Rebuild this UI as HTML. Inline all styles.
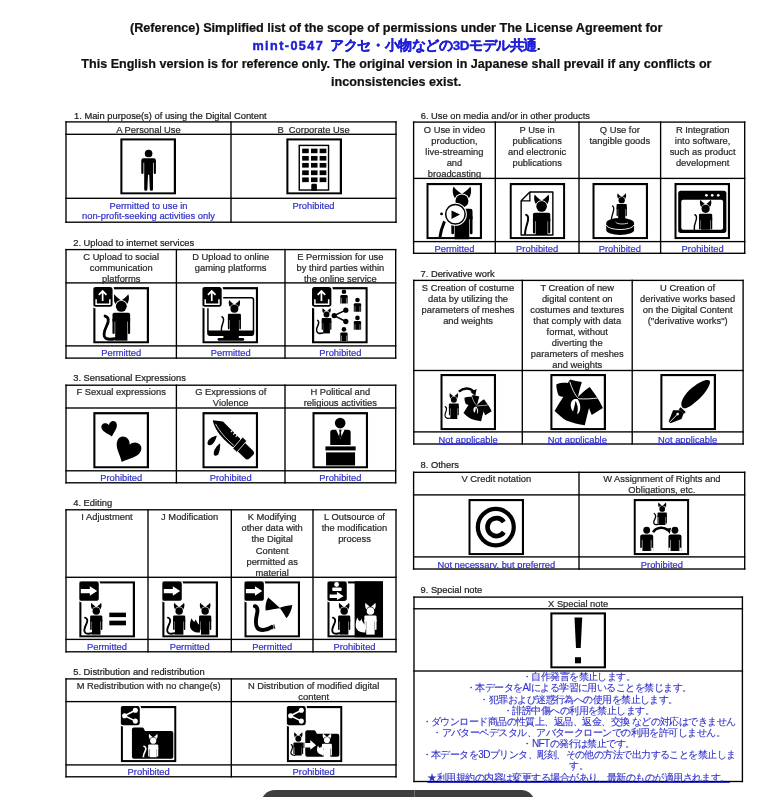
<!DOCTYPE html>
<html><head><meta charset="utf-8"><style>
html,body{margin:0;padding:0;background:#fff;}
body{width:778px;height:797px;position:relative;overflow:hidden;font-family:"Liberation Sans",sans-serif;}
.t{position:absolute;white-space:nowrap;-webkit-text-stroke:0.22px currentColor;}
svg{position:absolute;left:0;top:0;}
</style></head><body>
<svg width="778" height="797" viewBox="0 0 778 797">
<defs>
<g id="cat">
 <g stroke="none">
 <path d="M-7,-11.8 C-8.3,-8.5 -7.6,-4.8 -5.7,-2 L0.6,-5.4 C-2,-6.8 -4.8,-9 -7,-11.8 Z M7,-11.8 C8.3,-8.5 7.6,-4.8 5.7,-2 L-0.6,-5.4 C2,-6.8 4.8,-9 7,-11.8 Z"/>
 <circle r="6.2" fill="currentColor"/>
 <circle r="5.4"/>
 <path d="M-8.8,15 V8.3 Q-8.8,6.5 -7,6.5 H7 Q8.8,6.5 8.8,8.3 V15 Z"/>
 <rect x="-8.8" y="12" width="2.2" height="15.4" rx="1.1"/>
 <rect x="6.6" y="12" width="2.2" height="15.4" rx="1.1"/>
 <rect x="-6.1" y="10" width="12.2" height="23.9"/>
 </g>
 <path d="M-16.2,9.6 C-12.2,10.6 -12.2,15 -14.5,19 C-17,24 -19,29 -15.5,31.5 C-13,33 -9,32.5 -6.5,32" fill="none" stroke-width="2.8" stroke-linecap="round"/>
</g>
<g id="catnt">
 <g stroke="none">
 <path d="M-7,-11.8 C-8.3,-8.5 -7.6,-4.8 -5.7,-2 L0.6,-5.4 C-2,-6.8 -4.8,-9 -7,-11.8 Z M7,-11.8 C8.3,-8.5 7.6,-4.8 5.7,-2 L-0.6,-5.4 C2,-6.8 4.8,-9 7,-11.8 Z"/>
 <circle r="6.2" fill="currentColor"/>
 <circle r="5.4"/>
 <path d="M-8.8,15 V8.3 Q-8.8,6.5 -7,6.5 H7 Q8.8,6.5 8.8,8.3 V15 Z"/>
 <rect x="-8.8" y="12" width="2.2" height="15.4" rx="1.1"/>
 <rect x="6.6" y="12" width="2.2" height="15.4" rx="1.1"/>
 <rect x="-6.1" y="10" width="12.2" height="23.9"/>
 </g>
</g>
<g id="person">
 <circle cx="0" cy="0" r="3.8"/>
 <path d="M-7.3,19 V6.8 Q-7.3,4.6 -5.1,4.6 H5.1 Q7.3,4.6 7.3,6.8 V19 Q7.3,20.2 6.2,20.2 Q5.1,20.2 5.1,19 V9 H-5.1 V19 Q-5.1,20.2 -6.2,20.2 Q-7.3,20.2 -7.3,19 Z"/>
 <path d="M-4.4,7 H4.4 V35.2 Q4.4,36.8 2.8,36.8 Q1.2,36.8 1.2,35.2 L0.6,21 H-0.6 L-1.2,35.2 Q-1.2,36.8 -2.8,36.8 Q-4.4,36.8 -4.4,35.2 Z"/>
</g>
<g id="bust">
 <circle cx="0" cy="0" r="2.3"/>
 <path d="M-3.65,11.6 V4.3 Q-3.65,3.1 -2.45,3.1 H2.45 Q3.65,3.1 3.65,4.3 V11.6 Z"/>
 <path d="M-2.45,6.2 V11.8 M2.45,6.2 V11.8" stroke="#fff" stroke-width="0.45"/>
</g>
<g id="wperson">
 <circle cx="0" cy="0" r="3.4"/>
 <path d="M-6.5,20.4 V6.4 Q-6.5,4.2 -4.3,4.2 H4.3 Q6.5,4.2 6.5,6.4 V20.4 Z"/>
 <path d="M-4.4,9.5 V20.5 M4.4,9.5 V20.5" stroke="#fff" stroke-width="0.55"/>
 <path d="M-6.6,17.2 H-4.7 V20.6 H-6.6 Z M6.6,17.2 H4.7 V20.6 H6.6 Z" fill="#fff"/>
</g>
<g id="bup">
 <rect x="-1" y="-1" width="21.8" height="21.8" rx="3" fill="#fff"/>
 <rect x="0" y="0" width="19.3" height="19.3" rx="2.6"/>
 <path d="M2.9,11.9 V16.9 H16.6 V11.9" fill="none" stroke="#fff" stroke-width="1.5"/>
 <path d="M9.4,13.6 V4.6 M5.6,7.6 L9.4,3.9 L13.2,7.6" fill="none" stroke="#fff" stroke-width="1.7"/>
</g>
<g id="barrow">
 <rect x="-1" y="-1" width="21.8" height="21.8" rx="3" fill="#fff"/>
 <rect x="0" y="0" width="19.5" height="19.3" rx="2.6"/>
 <path d="M1.6,7.7 H10.6 V4.9 L17.9,9.7 L10.6,14.4 V11.8 H1.6 Z" fill="#fff"/>
</g>
<g id="bshare">
 <rect x="-1" y="-1" width="21.2" height="21.2" rx="3" fill="#fff"/>
 <rect x="0" y="0" width="19" height="19" rx="2.6"/>
 <path d="M14.6,4.3 L3.9,9.7 L14.6,15" fill="none" stroke="#fff" stroke-width="1.5"/>
 <circle cx="3.9" cy="9.7" r="2.5" fill="#fff"/><circle cx="14.6" cy="4.3" r="2.5" fill="#fff"/><circle cx="14.6" cy="15" r="2.5" fill="#fff"/>
</g>
<g id="tail2">
 <path d="M0,0 C2.5,1.2 2.5,4.5 0.8,8 C-1,11.5 -1.5,14.5 -1,17.5" fill="none" stroke="#000" stroke-width="1.6" stroke-linecap="round"/>
</g>
<path id="costume" d="M6.05,10.4 C10,8.8 14,8.6 17.6,8.9 C18.4,7.4 19,6.2 19.9,5.4 C23.5,6.6 27.5,7.2 31.5,8.1 C30,13 28.6,18 27.6,22.8 C31,19.2 35,15.6 39.4,12.8 C42.2,16.4 44.6,20 47.1,23.6 C49,26.8 50.8,30.2 52.5,33.6 C48.8,36 45,38.2 41.4,40.5 C40.4,38.2 39.4,35.8 38.7,33.6 C37.3,39.2 35.8,45 34.5,50.6 C28.5,49.6 22,48.2 16,45.9 C11.8,43.4 8,40 4.4,36.6 C7.2,31.8 10,27 13,22.7 C11.4,22.4 9.8,21.8 8.4,21.2 C6.8,17.8 6.2,14 6.05,10.4 Z"/>
<path id="fox" d="M0,12 C-3,11 -4.5,8 -4,4.5 C-3.5,2 -2,0.5 -1.2,-1 C-0.8,0.8 0,1.6 0.8,2 C1.5,3.5 2.2,5 3,6 L3.6,12 Z"/>
</defs>
<rect x="65.33" y="121.23" width="331.35" height="1.35" fill="#000"/><rect x="65.33" y="133.62" width="331.35" height="1.35" fill="#000"/><rect x="65.33" y="197.62" width="331.35" height="1.35" fill="#000"/><rect x="65.33" y="221.52" width="331.35" height="1.35" fill="#000"/><rect x="65.33" y="121.23" width="1.35" height="101.65" fill="#000"/><rect x="395.32" y="121.23" width="1.35" height="101.65" fill="#000"/><rect x="230.32" y="121.23" width="1.35" height="101.65" fill="#000"/><g transform="translate(120.20,138.20) scale(1.0036,1.0144)"><svg x="0" y="0" width="55.6" height="55.6" overflow="hidden"><rect x="1.1" y="1.1" width="53.4" height="53.4" fill="none" stroke="#000" stroke-width="2.2"/><use href="#person" transform="translate(28.3,15.1)"/></svg></g><g transform="translate(286.20,138.20) scale(1.0036,1.0144)"><svg x="0" y="0" width="55.6" height="55.6" overflow="hidden"><rect x="1.1" y="1.1" width="53.4" height="53.4" fill="none" stroke="#000" stroke-width="2.2"/><rect x="13" y="7.1" width="29.2" height="44" fill="none" stroke="#000" stroke-width="1.4"/><rect x="15.9" y="10.3" width="6.6" height="4.5"/><rect x="24.7" y="10.3" width="6.5" height="4.5"/><rect x="33.3" y="10.3" width="6.7" height="4.5"/><rect x="15.9" y="17.5" width="6.6" height="4.6"/><rect x="24.7" y="17.5" width="6.5" height="4.6"/><rect x="33.3" y="17.5" width="6.7" height="4.6"/><rect x="15.9" y="24.4" width="6.6" height="4.6"/><rect x="24.7" y="24.4" width="6.5" height="4.6"/><rect x="33.3" y="24.4" width="6.7" height="4.6"/><rect x="15.9" y="31.7" width="6.6" height="4.7"/><rect x="24.7" y="31.7" width="6.5" height="4.7"/><rect x="33.3" y="31.7" width="6.7" height="4.7"/><rect x="15.9" y="38.7" width="6.6" height="4.6"/><rect x="24.7" y="38.7" width="6.5" height="4.6"/><rect x="33.3" y="38.7" width="6.7" height="4.6"/><path d="M25,51.8 V46.2 Q25,44.9 26.3,44.9 H29.3 Q30.6,44.9 30.6,46.2 V51.8 Z"/></svg></g><rect x="65.33" y="248.92" width="331.05" height="1.35" fill="#000"/><rect x="65.33" y="282.22" width="331.05" height="1.35" fill="#000"/><rect x="65.33" y="345.22" width="331.05" height="1.35" fill="#000"/><rect x="65.33" y="357.43" width="331.05" height="1.35" fill="#000"/><rect x="65.33" y="248.92" width="1.35" height="109.85" fill="#000"/><rect x="395.02" y="248.92" width="1.35" height="109.85" fill="#000"/><rect x="175.72" y="248.92" width="1.35" height="109.85" fill="#000"/><rect x="284.32" y="248.92" width="1.35" height="109.85" fill="#000"/><g transform="translate(93.20,287.10) scale(1.0036,1.0144)"><svg x="0" y="0" width="55.6" height="55.6" overflow="hidden"><rect x="1.1" y="1.1" width="53.4" height="53.4" fill="none" stroke="#000" stroke-width="2.2"/><use href="#cat" transform="translate(28,18.9) scale(1.0)" fill="#000" stroke="#000" color="#fff"/><use href="#bup"/></svg></g><g transform="translate(202.30,287.10) scale(1.0036,1.0144)"><svg x="0" y="0" width="55.6" height="55.6" overflow="hidden"><rect x="1.1" y="1.1" width="53.4" height="53.4" fill="none" stroke="#000" stroke-width="2.2"/><path d="M5.6,44 V12.6 Q5.6,10.6 7.6,10.6 H49 Q51,10.6 51,12.6 V44" fill="none" stroke="#000" stroke-width="1.5"/><use href="#catnt" transform="translate(32.0,21.4) scale(0.74)" fill="#000" stroke="#000" color="#fff"/><path d="M19.6,29.3 C21.5,30 21.6,33 20.3,36 C19.3,38.5 18.8,40.5 19,42.8" fill="none" stroke="#000" stroke-width="1.5" stroke-linecap="round"/><path d="M4.9,42.7 H51.7 V45.6 Q51.7,48.3 49,48.3 H7.6 Q4.9,48.3 4.9,45.6 Z"/><rect x="21" y="47" width="15.4" height="4"/><rect x="15.2" y="50.1" width="26.6" height="2.9" rx="1.45"/><use href="#bup"/></svg></g><g transform="translate(312.00,287.10) scale(1.0036,1.0144)"><svg x="0" y="0" width="55.6" height="55.6" overflow="hidden"><rect x="1.1" y="1.1" width="53.4" height="53.4" fill="none" stroke="#000" stroke-width="2.2"/><use href="#catnt" transform="translate(14.5,27) scale(0.55)" fill="#000" stroke="#000" color="#fff"/><path d="M5.6,32.8 C7,33.5 7,36 5.6,38.5 C4,41.5 4.2,44.6 6.5,45.4 C8,45.8 9.5,45.6 10.9,45.2" fill="none" stroke="#000" stroke-width="1.5" stroke-linecap="round"/><path d="M33.7,22.7 L22.1,28.1 L33.7,33.9" fill="none" stroke="#000" stroke-width="1.5"/><circle cx="22.1" cy="28.1" r="2.6"/><circle cx="33.7" cy="22.7" r="2.6"/><circle cx="33.7" cy="33.9" r="2.6"/><use href="#bust" transform="translate(31.85,4.6)"/><use href="#bust" transform="translate(45.3,12.7)"/><use href="#bust" transform="translate(45.3,30.4)"/><use href="#bust" transform="translate(31.85,41.6)"/><use href="#bup"/></svg></g><rect x="65.33" y="384.52" width="331.05" height="1.35" fill="#000"/><rect x="65.33" y="407.32" width="331.05" height="1.35" fill="#000"/><rect x="65.33" y="470.12" width="331.05" height="1.35" fill="#000"/><rect x="65.33" y="482.12" width="331.05" height="1.35" fill="#000"/><rect x="65.33" y="384.52" width="1.35" height="98.95" fill="#000"/><rect x="395.02" y="384.52" width="1.35" height="98.95" fill="#000"/><rect x="175.72" y="384.52" width="1.35" height="98.95" fill="#000"/><rect x="284.32" y="384.52" width="1.35" height="98.95" fill="#000"/><g transform="translate(93.20,412.10) scale(1.0036,1.0144)"><svg x="0" y="0" width="55.6" height="55.6" overflow="hidden"><rect x="1.1" y="1.1" width="53.4" height="53.4" fill="none" stroke="#000" stroke-width="2.2"/><path d="M0,-3 C-1.5,-7.5 -8.5,-7.5 -8.5,-2.2 C-8.5,2.5 -3,5.5 0,9.5 C3,5.5 8.5,2.5 8.5,-2.2 C8.5,-7.5 1.5,-7.5 0,-3 Z" transform="translate(16.4,15.6) rotate(-15) scale(0.92)"/><path d="M0,-3 C-1.5,-7.5 -8.5,-7.5 -8.5,-2.2 C-8.5,2.5 -3,5.5 0,9.5 C3,5.5 8.5,2.5 8.5,-2.2 C8.5,-7.5 1.5,-7.5 0,-3 Z" transform="translate(34.4,36.2) rotate(25) scale(1.5)"/></svg></g><g transform="translate(202.30,412.10) scale(1.0036,1.0144)"><svg x="0" y="0" width="55.6" height="55.6" overflow="hidden"><rect x="1.1" y="1.1" width="53.4" height="53.4" fill="none" stroke="#000" stroke-width="2.2"/><path d="M10.4,8.1 L20.6,9.2 L39,27.4 L31.4,35.2 C24,29.8 17.5,23.2 13.8,16.8 C12.2,14 11,11 10.4,8.1 Z"/><path d="M13.2,11.6 C17,18.8 23.5,26.2 31.6,33" fill="none" stroke="#fff" stroke-width="0.75"/><path d="M30.3,17.8 L28.4,19.7 M32.7,20.2 L30.8,22.1 M35.1,22.5 L33.2,24.4" stroke="#fff" stroke-width="1.1"/><path d="M41.6,29.4 L50.6,38 Q52.6,40.2 50.4,42.6 L47,45.8 Q44.6,47.8 42.4,45.6 L33.6,37 Z"/><path d="M40.2,24.6 L44.2,28.4 L34.4,39.6 L30.4,35.8 Z" stroke="#fff" stroke-width="0.8" stroke-linejoin="round"/><path d="M14.5,23.4 C10,24 5.5,27 5.2,30.4 C5,32.6 7.4,33.2 9.4,32.2 C12.2,30.4 13.6,26.6 14.5,23.4 Z"/><path d="M17.8,30.8 C14.6,33 11.2,37.5 11.4,41 C11.6,43.6 14.5,43.6 16,41.6 C17.6,38.8 17.8,34.5 17.8,30.8 Z"/></svg></g><g transform="translate(312.30,412.10) scale(1.0036,1.0144)"><svg x="0" y="0" width="55.6" height="55.6" overflow="hidden"><rect x="1.1" y="1.1" width="53.4" height="53.4" fill="none" stroke="#000" stroke-width="2.2"/><circle cx="27.8" cy="10.8" r="5.3"/><path d="M17.9,32.5 V19.8 Q17.9,17.3 20.4,17.3 H35.7 Q38.2,17.3 38.2,19.8 V32.5 Z"/><path d="M23.6,17.1 L27.9,26.5 L32.2,17.1 Z" fill="#fff"/><path d="M26.9,17.4 H28.9 L29.1,19 L28.5,19.4 L29.2,24.5 L27.9,26 L26.6,24.5 L27.3,19.4 L26.7,19 Z"/><rect x="13.1" y="33.8" width="30.1" height="4"/><rect x="13.7" y="39.7" width="28.9" height="12.9"/></svg></g><rect x="65.33" y="509.12" width="331.35" height="1.35" fill="#000"/><rect x="65.33" y="576.62" width="331.35" height="1.35" fill="#000"/><rect x="65.33" y="638.73" width="331.35" height="1.35" fill="#000"/><rect x="65.33" y="651.12" width="331.35" height="1.35" fill="#000"/><rect x="65.33" y="509.12" width="1.35" height="143.35" fill="#000"/><rect x="395.32" y="509.12" width="1.35" height="143.35" fill="#000"/><rect x="147.32" y="509.12" width="1.35" height="143.35" fill="#000"/><rect x="230.62" y="509.12" width="1.35" height="143.35" fill="#000"/><rect x="312.32" y="509.12" width="1.35" height="143.35" fill="#000"/><g transform="translate(79.20,581.20) scale(1.0036,1.0144)"><svg x="0" y="0" width="55.6" height="55.6" overflow="hidden"><rect x="1.1" y="1.1" width="53.4" height="53.4" fill="none" stroke="#000" stroke-width="2.2"/><use href="#cat" transform="translate(17,29.3) scale(0.69)" fill="#000" stroke="#000" color="#fff"/><rect x="30" y="31" width="16.6" height="4.4"/><rect x="30" y="38.9" width="16.6" height="4.6"/><use href="#barrow"/></svg></g><g transform="translate(162.20,581.20) scale(1.0036,1.0144)"><svg x="0" y="0" width="55.6" height="55.6" overflow="hidden"><rect x="1.1" y="1.1" width="53.4" height="53.4" fill="none" stroke="#000" stroke-width="2.2"/><use href="#cat" transform="translate(16.9,29.3) scale(0.69)" fill="#000" stroke="#000" color="#fff"/><use href="#catnt" transform="translate(42.8,29.3) scale(0.69)" fill="#000" stroke="#000" color="#fff"/><path d="M37.6,50.6 C33,51.2 28.6,48.8 27.8,45.2 C27.2,42.2 28.2,39.2 29.2,36.6 C30,38.4 31,39.6 32,40.2 C32.4,39.2 33,38.4 33.6,37.8 C34.2,40.2 35.6,42.2 37.6,43.6 Z"/><use href="#barrow"/></svg></g><g transform="translate(244.30,581.20) scale(1.0036,1.0144)"><svg x="0" y="0" width="55.6" height="55.6" overflow="hidden"><rect x="1.1" y="1.1" width="53.4" height="53.4" fill="none" stroke="#000" stroke-width="2.2"/><path d="M35.5,26.4 C31,22.5 27,19 23.9,16.1 C21.6,19.5 20.8,24.5 21.2,28.9 C26,28.2 31,27.2 35.5,26.4 Z M35.3,26.2 C39.5,25 43.5,24 47.8,23.5 C47.2,28.5 45,33 42,36.6 C40,33 37.8,29.5 35.3,26.2 Z"/><path d="M10.6,24.6 C13.5,25.5 13.5,29 12.5,33 C11.4,38 10.5,42.5 13,46 C16,49.5 23,48 27.2,45.3" fill="none" stroke="#000" stroke-width="3.9" stroke-linecap="round"/><path d="M27.5,43 L28.6,47.4 M29.4,42.6 L30.5,47" stroke="#000" stroke-width="0.9"/><use href="#barrow"/></svg></g><g transform="translate(327.30,581.20) scale(1.0036,1.0144)"><svg x="0" y="0" width="55.6" height="55.6" overflow="hidden"><rect x="1.1" y="1.1" width="53.4" height="53.4" fill="none" stroke="#000" stroke-width="2.2"/><rect x="27.2" y="0" width="28.4" height="55.6"/><use href="#cat" transform="translate(16.8,29.3) scale(0.69)" fill="#000" stroke="#000" color="#fff"/><use href="#catnt" transform="translate(43.0,29.3) scale(0.69)" fill="#fff" stroke="#fff" color="#000"/><path d="M38,50.5 C33.4,51.2 29,48.8 28.4,45 C28,42 28.8,38.6 29.8,35.8 C30.6,37.8 31.6,39 32.6,39.6 C33,38.6 33.6,37.8 34.2,37.2 C34.8,39.8 36,42 38,43.4 Z" fill="#fff"/><rect x="-1" y="-1" width="21.8" height="21.8" rx="3" fill="#fff"/><rect x="0" y="0" width="19.4" height="19.4" rx="2.6"/><circle cx="9.3" cy="3.2" r="2.4" fill="#fff"/><rect x="5" y="6.1" width="9.3" height="3.5" rx="0.8" fill="#fff"/><path d="M2.3,13.1 H9.6 V10.4 L16.2,14.8 L9.6,18.6 V16.5 H2.3 Z" fill="#fff"/></svg></g><rect x="65.33" y="678.23" width="331.35" height="1.35" fill="#000"/><rect x="65.33" y="700.93" width="331.35" height="1.35" fill="#000"/><rect x="65.33" y="764.23" width="331.35" height="1.35" fill="#000"/><rect x="65.33" y="776.12" width="331.35" height="1.35" fill="#000"/><rect x="65.33" y="678.23" width="1.35" height="99.25" fill="#000"/><rect x="395.32" y="678.23" width="1.35" height="99.25" fill="#000"/><rect x="230.62" y="678.23" width="1.35" height="99.25" fill="#000"/><g transform="translate(120.70,705.90) scale(1.0036,1.0144)"><svg x="0" y="0" width="55.6" height="55.6" overflow="hidden"><rect x="1.1" y="1.1" width="53.4" height="53.4" fill="none" stroke="#000" stroke-width="2.2"/><path d="M11.2,23.2 Q11.2,21.2 13.2,21.2 H21.3 Q22.5,21.2 23.2,22.5 L24.1,24.7 H50.4 Q52.4,24.7 52.4,26.7 V50.1 Q52.4,52.1 50.4,52.1 H13.2 Q11.2,52.1 11.2,50.1 Z"/><svg x="11.2" y="21.2" width="41.2" height="29.3" overflow="hidden"><use href="#cat" transform="translate(21.2,13.099999999999998) scale(0.57)" fill="#fff" stroke="#fff" color="#000"/></svg><use href="#bshare"/></svg></g><g transform="translate(286.70,705.90) scale(1.0036,1.0144)"><svg x="0" y="0" width="55.6" height="55.6" overflow="hidden"><rect x="1.1" y="1.1" width="53.4" height="53.4" fill="none" stroke="#000" stroke-width="2.2"/><path d="M18.5,25.9 Q18.5,23.9 20.5,23.9 H27 Q28.2,23.9 28.9,25.2 L30,27.4 H50.4 Q52.4,27.4 52.4,29.4 V48.1 Q52.4,50.1 50.4,50.1 H20.5 Q18.5,50.1 18.5,48.1 Z"/><svg x="0" y="0" width="55.6" height="49" overflow="hidden"><use href="#catnt" transform="translate(11.56,32.4) scale(0.55)" fill="#000" stroke="#000" color="#fff"/></svg><path d="M4.6,38.2 C6,39 5.8,42 4.6,44.5 C3.5,47 4.5,48.8 8.1,48.7" fill="none" stroke="#000" stroke-width="1.2" stroke-linecap="round"/><path d="M16.2,36.6 H23.5 V33.5 L29.3,38.8 L23.5,43.2 V40.9 H16.2 Z" fill="#fff"/><rect x="16.6" y="36" width="1" height="5.5"/><use href="#catnt" transform="translate(40.1,33.6) scale(0.56)" fill="#fff" stroke="#fff" color="#000"/><path d="M37.4,48.2 C34,48.8 30.8,47 30.3,44.2 C30,42 30.5,40.6 31.2,39 C31.8,40.4 32.6,41.2 33.3,41.6 C33.6,40.9 34,40.3 34.5,39.9 C35,41.6 36,43 37.4,44 Z" fill="#fff"/><use href="#bshare"/></svg></g><rect x="412.93" y="121.42" width="332.45" height="1.35" fill="#000"/><rect x="412.93" y="177.72" width="332.45" height="1.35" fill="#000"/><rect x="412.93" y="240.92" width="332.45" height="1.35" fill="#000"/><rect x="412.93" y="252.62" width="332.45" height="1.35" fill="#000"/><rect x="412.93" y="121.42" width="1.35" height="132.55" fill="#000"/><rect x="744.03" y="121.42" width="1.35" height="132.55" fill="#000"/><rect x="494.62" y="121.42" width="1.35" height="132.55" fill="#000"/><rect x="578.33" y="121.42" width="1.35" height="132.55" fill="#000"/><rect x="659.93" y="121.42" width="1.35" height="132.55" fill="#000"/><g transform="translate(426.30,182.90) scale(1.0036,1.0144)"><svg x="0" y="0" width="55.6" height="55.6" overflow="hidden"><rect x="1.1" y="1.1" width="53.4" height="53.4" fill="none" stroke="#000" stroke-width="2.2"/><use href="#catnt" transform="translate(35.5,17.8) scale(1.2)" fill="#000" stroke="#000" color="#fff"/><path d="M15.2,30.6 L15.2,30.6" stroke="#000" stroke-width="2.8" stroke-linecap="round"/><path d="M18.2,38 C16.5,42 14.5,46 13.6,53.5" fill="none" stroke="#000" stroke-width="2.9"/><circle cx="29" cy="30.9" r="11.4" fill="#fff"/><circle cx="29" cy="30.9" r="9.7" fill="none" stroke="#000" stroke-width="1.5"/><path d="M25.1,27.2 L33.6,31.1 L25.1,35.6 Z"/></svg></g><g transform="translate(509.50,182.90) scale(1.0036,1.0144)"><svg x="0" y="0" width="55.6" height="55.6" overflow="hidden"><rect x="1.1" y="1.1" width="53.4" height="53.4" fill="none" stroke="#000" stroke-width="2.2"/><path d="M11.6,51.3 V17.7 L20.3,9 H43.2 V51.3 Z" fill="none" stroke="#000" stroke-width="1.4" stroke-linejoin="round"/><path d="M11.6,17.7 H20.3 V9" fill="none" stroke="#000" stroke-width="1.3"/><svg x="0" y="0" width="55.6" height="51.3" overflow="hidden"><use href="#catnt" transform="translate(32.0,23.1) scale(0.98)" fill="#000" stroke="#000" color="#fff"/></svg><path d="M16.6,31.5 C19,32.3 19,35.5 17.8,39.5 C16.6,43.5 15.5,47 15.5,50.2" fill="none" stroke="#000" stroke-width="2" stroke-linecap="round"/></svg></g><g transform="translate(592.30,182.90) scale(1.0036,1.0144)"><svg x="0" y="0" width="55.6" height="55.6" overflow="hidden"><rect x="1.1" y="1.1" width="53.4" height="53.4" fill="none" stroke="#000" stroke-width="2.2"/><use href="#catnt" transform="translate(29.3,17.0) scale(0.58)" fill="#000" stroke="#000" color="#fff"/><path d="M20.1,22.8 C21.5,23.6 21.6,26.5 20.6,29.5 C19.7,32.3 19,34.5 19,36.6" fill="none" stroke="#000" stroke-width="1.3" stroke-linecap="round"/><path d="M13.9,39.5 A13.85,4.85 0 0 1 41.6,39.5 V46.4 A13.85,4.9 0 0 1 13.9,46.4 Z"/><path d="M14.1,41.6 A13.7,4.8 0 0 0 41.4,41.6" fill="none" stroke="#fff" stroke-width="0.9"/><path d="M23.2,38.6 C25,40.8 31,41 35.6,39.6" fill="none" stroke="#fff" stroke-width="0.8"/></svg></g><g transform="translate(674.30,182.90) scale(1.0036,1.0144)"><svg x="0" y="0" width="55.6" height="55.6" overflow="hidden"><rect x="1.1" y="1.1" width="53.4" height="53.4" fill="none" stroke="#000" stroke-width="2.2"/><rect x="3.9" y="7.7" width="48" height="41.7" rx="2.6"/><rect x="6.95" y="16.6" width="41.65" height="29.7" rx="2" fill="#fff"/><circle cx="32" cy="12.2" r="1.35" fill="#fff"/><circle cx="37.8" cy="12.2" r="1.35" fill="#fff"/><circle cx="43.8" cy="12.2" r="1.35" fill="#fff"/><svg x="0" y="0" width="56" height="46.3" overflow="hidden"><use href="#catnt" transform="translate(31.2,25.5) scale(0.75)" fill="#000" stroke="#000" color="#fff"/></svg><path d="M20.6,31.4 C22.3,32.2 22.4,35 21.3,38 C20.3,40.5 19.7,43 20,46" fill="none" stroke="#000" stroke-width="1.4" stroke-linecap="round"/></svg></g><rect x="413.12" y="279.72" width="330.65" height="1.35" fill="#000"/><rect x="413.12" y="369.82" width="330.65" height="1.35" fill="#000"/><rect x="413.12" y="431.22" width="330.65" height="1.35" fill="#000"/><rect x="413.12" y="443.32" width="330.65" height="1.35" fill="#000"/><rect x="413.12" y="279.72" width="1.35" height="164.95" fill="#000"/><rect x="742.43" y="279.72" width="1.35" height="164.95" fill="#000"/><rect x="521.62" y="279.72" width="1.35" height="164.95" fill="#000"/><rect x="631.53" y="279.72" width="1.35" height="164.95" fill="#000"/><g transform="translate(440.30,373.90) scale(1.0036,1.0144)"><svg x="0" y="0" width="55.6" height="55.6" overflow="hidden"><rect x="1.1" y="1.1" width="53.4" height="53.4" fill="none" stroke="#000" stroke-width="2.2"/><use href="#catnt" transform="translate(13.5,25.5) scale(0.56)" fill="#000" stroke="#000" color="#fff"/><path d="M4.9,32.3 C6.4,33 6.4,35.5 5.3,38 C4.2,40.5 4.4,43 6.6,43.6 C8,44 9.5,43.7 10.8,43.2" fill="none" stroke="#000" stroke-width="1.2" stroke-linecap="round"/><path d="M18.5,17.5 C23,13.5 29,13.4 33,17" fill="none" stroke="#000" stroke-width="2.4"/><path d="M30,17.5 L36.2,15 L34.8,21.8 Z"/><use href="#costume" transform="translate(20.5,17.6) scale(0.585,0.573)"/><path d="M31.2,21.4 C32.5,26 34.5,30 37,31.5 C41,31.5 45.5,31 49.5,30.3" fill="none" stroke="#fff" stroke-width="0.6"/><path d="M34.6,32.4 C32.5,33.5 32.6,37 34.2,38.4 C35,36.5 35.5,34.5 35.3,32.6 C36.5,35 37.5,37 36.4,39.6 C38.5,38.5 38.2,34.8 35.8,32.2 Z" fill="#fff"/></svg></g><g transform="translate(550.20,373.90) scale(1.0036,1.0144)"><svg x="0" y="0" width="55.6" height="55.6" overflow="hidden"><rect x="1.1" y="1.1" width="53.4" height="53.4" fill="none" stroke="#000" stroke-width="2.2"/><use href="#costume"/><path d="M19.5,7.6 C21.5,14 24.5,21 28.5,24.5 C35,25 42,24.5 48.2,23.6" fill="none" stroke="#fff" stroke-width="0.9"/><path d="M24,24.8 C19.5,26.5 19.5,33.5 22.8,37 C23.8,33.5 24.8,30 25.3,26.5 C26.8,30 28.5,34 26.7,39.8 C31,37.5 31,30 27.2,24.7 Z" fill="#fff"/></svg></g><g transform="translate(660.20,373.90) scale(1.0036,1.0144)"><svg x="0" y="0" width="55.6" height="55.6" overflow="hidden"><rect x="1.1" y="1.1" width="53.4" height="53.4" fill="none" stroke="#000" stroke-width="2.2"/><path d="M22.2,33 C18.5,29.5 24,20 32,13.5 C40,7 47.5,4.5 49.3,6.8 C51,9 46.5,17.5 39,24.5 C31,31.5 25,36 22.2,33 Z"/><path d="M20.4,32.8 L25.4,37.6 L23.5,39.6 L18.5,34.8 Z"/><path d="M19.8,35.8 L23.2,39.2 L21.2,44.4 L10.2,48.6 L8.4,46.9 L12.8,35.9 Z"/><path d="M9.1,47.9 L17,40" stroke="#fff" stroke-width="0.9"/><circle cx="17.4" cy="39.6" r="1.3" fill="#fff"/></svg></g><rect x="412.93" y="471.62" width="332.45" height="1.35" fill="#000"/><rect x="412.93" y="494.22" width="332.45" height="1.35" fill="#000"/><rect x="412.93" y="556.23" width="332.45" height="1.35" fill="#000"/><rect x="412.93" y="568.33" width="332.45" height="1.35" fill="#000"/><rect x="412.93" y="471.62" width="1.35" height="98.05" fill="#000"/><rect x="744.03" y="471.62" width="1.35" height="98.05" fill="#000"/><rect x="578.33" y="471.62" width="1.35" height="98.05" fill="#000"/><g transform="translate(468.30,498.90) scale(1.0036,1.0144)"><svg x="0" y="0" width="55.6" height="55.6" overflow="hidden"><rect x="1.1" y="1.1" width="53.4" height="53.4" fill="none" stroke="#000" stroke-width="2.2"/><circle cx="27.4" cy="27.8" r="17.9" fill="none" stroke="#000" stroke-width="4.2"/><path d="M35.4,22.8 A8.9,8.9 0 1 0 35.4,32.8" fill="none" stroke="#000" stroke-width="4.6"/></svg></g><g transform="translate(633.50,498.90) scale(1.0036,1.0144)"><svg x="0" y="0" width="55.6" height="55.6" overflow="hidden"><rect x="1.1" y="1.1" width="53.4" height="53.4" fill="none" stroke="#000" stroke-width="2.2"/><svg x="0" y="0" width="55.6" height="25.8" overflow="hidden"><use href="#catnt" transform="translate(28.6,9.9) scale(0.53)" fill="#000" stroke="#000" color="#fff"/></svg><path d="M20.6,14.4 C22.3,15.4 22.3,18 21,20.5 C19.6,23 20,25 22,25.3 C23,25.4 24,25.2 24.8,25" fill="none" stroke="#000" stroke-width="1.3" stroke-linecap="round"/><path d="M19.6,33 C21.5,28.4 29.5,26.6 34,30.6" fill="none" stroke="#000" stroke-width="2.5"/><path d="M31.6,29.6 L37.4,28.4 L36.2,34.4 Z"/><use href="#wperson" transform="translate(13.15,30.9)"/><use href="#wperson" transform="translate(41.3,30.9)"/></svg></g><rect x="413.32" y="596.43" width="329.75" height="1.35" fill="#000"/><rect x="413.32" y="608.12" width="329.75" height="1.35" fill="#000"/><rect x="413.32" y="670.33" width="329.75" height="1.35" fill="#000"/><rect x="413.32" y="780.83" width="329.75" height="1.35" fill="#000"/><rect x="413.32" y="596.43" width="1.35" height="185.75" fill="#000"/><rect x="741.73" y="596.43" width="1.35" height="185.75" fill="#000"/><g transform="translate(550.20,612.20) scale(1.0036,1.0144)"><svg x="0" y="0" width="55.6" height="55.6" overflow="hidden"><rect x="1.1" y="1.1" width="53.4" height="53.4" fill="none" stroke="#000" stroke-width="2.2"/><path d="M24.2,5.3 H31.9 L30.4,35.3 H25.7 Z"/><rect x="24.7" y="44.4" width="6" height="6"/></svg></g>
</svg>
<div style="position:absolute;left:0;top:0;width:778px;height:797px;will-change:transform">
<div class="t" style="left:74.00px;top:111.11px;font-size:9.36px;line-height:11.70px;color:#222;font-weight:400;">1. Main purpose(s) of using the Digital Content</div><div class="t" style="left:-351.50px;width:1000px;text-align:center;top:125.21px;font-size:9.36px;line-height:11.70px;color:#2a2a2a;font-weight:400;">A Personal Use</div><div class="t" style="left:-351.50px;width:1000px;text-align:center;top:201.01px;font-size:9.36px;line-height:11.70px;color:#3232c8;font-weight:400;">Permitted to use in</div><div class="t" style="left:-351.50px;width:1000px;text-align:center;top:211.41px;font-size:9.36px;line-height:11.70px;color:#3232c8;font-weight:400;">non-profit-seeking activities only</div><div class="t" style="left:-186.50px;width:1000px;text-align:center;top:125.21px;font-size:9.36px;line-height:11.70px;color:#2a2a2a;font-weight:400;">B&nbsp; Corporate Use</div><div class="t" style="left:-186.50px;width:1000px;text-align:center;top:201.01px;font-size:9.36px;line-height:11.70px;color:#3232c8;font-weight:400;">Prohibited</div><div class="t" style="left:73.20px;top:238.31px;font-size:9.36px;line-height:11.70px;color:#222;font-weight:400;">2. Upload to internet services</div><div class="t" style="left:-378.80px;width:1000px;text-align:center;top:251.91px;font-size:9.36px;line-height:11.70px;color:#2a2a2a;font-weight:400;">C Upload to social</div><div class="t" style="left:-378.80px;width:1000px;text-align:center;top:262.81px;font-size:9.36px;line-height:11.70px;color:#2a2a2a;font-weight:400;">communication</div><div class="t" style="left:-378.80px;width:1000px;text-align:center;top:273.71px;font-size:9.36px;line-height:11.70px;color:#2a2a2a;font-weight:400;">platforms</div><div class="t" style="left:-378.80px;width:1000px;text-align:center;top:347.81px;font-size:9.36px;line-height:11.70px;color:#3232c8;font-weight:400;">Permitted</div><div class="t" style="left:-269.30px;width:1000px;text-align:center;top:251.91px;font-size:9.36px;line-height:11.70px;color:#2a2a2a;font-weight:400;">D Upload to online</div><div class="t" style="left:-269.30px;width:1000px;text-align:center;top:262.81px;font-size:9.36px;line-height:11.70px;color:#2a2a2a;font-weight:400;">gaming platforms</div><div class="t" style="left:-269.30px;width:1000px;text-align:center;top:347.81px;font-size:9.36px;line-height:11.70px;color:#3232c8;font-weight:400;">Permitted</div><div class="t" style="left:-159.65px;width:1000px;text-align:center;top:251.91px;font-size:9.36px;line-height:11.70px;color:#2a2a2a;font-weight:400;">E Permission for use</div><div class="t" style="left:-159.65px;width:1000px;text-align:center;top:262.81px;font-size:9.36px;line-height:11.70px;color:#2a2a2a;font-weight:400;">by third parties within</div><div class="t" style="left:-159.65px;width:1000px;text-align:center;top:273.71px;font-size:9.36px;line-height:11.70px;color:#2a2a2a;font-weight:400;">the online service</div><div class="t" style="left:-159.65px;width:1000px;text-align:center;top:347.81px;font-size:9.36px;line-height:11.70px;color:#3232c8;font-weight:400;">Prohibited</div><div class="t" style="left:73.20px;top:373.11px;font-size:9.36px;line-height:11.70px;color:#222;font-weight:400;">3. Sensational Expressions</div><div class="t" style="left:-378.80px;width:1000px;text-align:center;top:387.21px;font-size:9.36px;line-height:11.70px;color:#2a2a2a;font-weight:400;">F Sexual expressions</div><div class="t" style="left:-378.80px;width:1000px;text-align:center;top:472.81px;font-size:9.36px;line-height:11.70px;color:#3232c8;font-weight:400;">Prohibited</div><div class="t" style="left:-269.30px;width:1000px;text-align:center;top:387.21px;font-size:9.36px;line-height:11.70px;color:#2a2a2a;font-weight:400;">G Expressions of</div><div class="t" style="left:-269.30px;width:1000px;text-align:center;top:398.11px;font-size:9.36px;line-height:11.70px;color:#2a2a2a;font-weight:400;">Violence</div><div class="t" style="left:-269.30px;width:1000px;text-align:center;top:472.81px;font-size:9.36px;line-height:11.70px;color:#3232c8;font-weight:400;">Prohibited</div><div class="t" style="left:-159.65px;width:1000px;text-align:center;top:387.21px;font-size:9.36px;line-height:11.70px;color:#2a2a2a;font-weight:400;">H Political and</div><div class="t" style="left:-159.65px;width:1000px;text-align:center;top:398.11px;font-size:9.36px;line-height:11.70px;color:#2a2a2a;font-weight:400;">religious activities</div><div class="t" style="left:-159.65px;width:1000px;text-align:center;top:472.81px;font-size:9.36px;line-height:11.70px;color:#3232c8;font-weight:400;">Prohibited</div><div class="t" style="left:73.20px;top:498.41px;font-size:9.36px;line-height:11.70px;color:#222;font-weight:400;">4. Editing</div><div class="t" style="left:-393.00px;width:1000px;text-align:center;top:512.21px;font-size:9.36px;line-height:11.70px;color:#2a2a2a;font-weight:400;">I Adjustment</div><div class="t" style="left:-393.00px;width:1000px;text-align:center;top:642.01px;font-size:9.36px;line-height:11.70px;color:#3232c8;font-weight:400;">Permitted</div><div class="t" style="left:-310.35px;width:1000px;text-align:center;top:512.21px;font-size:9.36px;line-height:11.70px;color:#2a2a2a;font-weight:400;">J Modification</div><div class="t" style="left:-310.35px;width:1000px;text-align:center;top:642.01px;font-size:9.36px;line-height:11.70px;color:#3232c8;font-weight:400;">Permitted</div><div class="t" style="left:-227.85px;width:1000px;text-align:center;top:512.21px;font-size:9.36px;line-height:11.70px;color:#2a2a2a;font-weight:400;">K Modifying</div><div class="t" style="left:-227.85px;width:1000px;text-align:center;top:523.31px;font-size:9.36px;line-height:11.70px;color:#2a2a2a;font-weight:400;">other data with</div><div class="t" style="left:-227.85px;width:1000px;text-align:center;top:534.41px;font-size:9.36px;line-height:11.70px;color:#2a2a2a;font-weight:400;">the Digital</div><div class="t" style="left:-227.85px;width:1000px;text-align:center;top:545.51px;font-size:9.36px;line-height:11.70px;color:#2a2a2a;font-weight:400;">Content</div><div class="t" style="left:-227.85px;width:1000px;text-align:center;top:556.61px;font-size:9.36px;line-height:11.70px;color:#2a2a2a;font-weight:400;">permitted as</div><div class="t" style="left:-227.85px;width:1000px;text-align:center;top:567.71px;font-size:9.36px;line-height:11.70px;color:#2a2a2a;font-weight:400;">material</div><div class="t" style="left:-227.85px;width:1000px;text-align:center;top:642.01px;font-size:9.36px;line-height:11.70px;color:#3232c8;font-weight:400;">Permitted</div><div class="t" style="left:-145.50px;width:1000px;text-align:center;top:512.21px;font-size:9.36px;line-height:11.70px;color:#2a2a2a;font-weight:400;">L Outsource of</div><div class="t" style="left:-145.50px;width:1000px;text-align:center;top:523.31px;font-size:9.36px;line-height:11.70px;color:#2a2a2a;font-weight:400;">the modification</div><div class="t" style="left:-145.50px;width:1000px;text-align:center;top:534.41px;font-size:9.36px;line-height:11.70px;color:#2a2a2a;font-weight:400;">process</div><div class="t" style="left:-145.50px;width:1000px;text-align:center;top:642.01px;font-size:9.36px;line-height:11.70px;color:#3232c8;font-weight:400;">Prohibited</div><div class="t" style="left:73.20px;top:667.11px;font-size:9.36px;line-height:11.70px;color:#222;font-weight:400;">5. Distribution and redistribution</div><div class="t" style="left:-351.35px;width:1000px;text-align:center;top:681.21px;font-size:9.36px;line-height:11.70px;color:#2a2a2a;font-weight:400;">M Redistribution with no change(s)</div><div class="t" style="left:-351.35px;width:1000px;text-align:center;top:767.11px;font-size:9.36px;line-height:11.70px;color:#3232c8;font-weight:400;">Prohibited</div><div class="t" style="left:-186.35px;width:1000px;text-align:center;top:681.21px;font-size:9.36px;line-height:11.70px;color:#2a2a2a;font-weight:400;">N Distribution of modified digital</div><div class="t" style="left:-186.35px;width:1000px;text-align:center;top:692.11px;font-size:9.36px;line-height:11.70px;color:#2a2a2a;font-weight:400;">content</div><div class="t" style="left:-186.35px;width:1000px;text-align:center;top:767.11px;font-size:9.36px;line-height:11.70px;color:#3232c8;font-weight:400;">Prohibited</div><div class="t" style="left:420.70px;top:111.11px;font-size:9.36px;line-height:11.70px;color:#222;font-weight:400;">6. Use on media and/or in other products</div><div class="t" style="left:-45.55px;width:1000px;text-align:center;top:125.01px;font-size:9.36px;line-height:11.70px;color:#2a2a2a;font-weight:400;">O Use in video</div><div class="t" style="left:-45.55px;width:1000px;text-align:center;top:135.91px;font-size:9.36px;line-height:11.70px;color:#2a2a2a;font-weight:400;">production,</div><div class="t" style="left:-45.55px;width:1000px;text-align:center;top:146.81px;font-size:9.36px;line-height:11.70px;color:#2a2a2a;font-weight:400;">live-streaming</div><div class="t" style="left:-45.55px;width:1000px;text-align:center;top:157.71px;font-size:9.36px;line-height:11.70px;color:#2a2a2a;font-weight:400;">and</div><div class="t" style="left:-45.55px;width:1000px;text-align:center;top:168.61px;font-size:9.36px;line-height:11.70px;color:#2a2a2a;font-weight:400;">broadcasting</div><div class="t" style="left:-45.55px;width:1000px;text-align:center;top:244.31px;font-size:9.36px;line-height:11.70px;color:#3232c8;font-weight:400;">Permitted</div><div class="t" style="left:37.15px;width:1000px;text-align:center;top:125.01px;font-size:9.36px;line-height:11.70px;color:#2a2a2a;font-weight:400;">P Use in</div><div class="t" style="left:37.15px;width:1000px;text-align:center;top:135.91px;font-size:9.36px;line-height:11.70px;color:#2a2a2a;font-weight:400;">publications</div><div class="t" style="left:37.15px;width:1000px;text-align:center;top:146.81px;font-size:9.36px;line-height:11.70px;color:#2a2a2a;font-weight:400;">and electronic</div><div class="t" style="left:37.15px;width:1000px;text-align:center;top:157.71px;font-size:9.36px;line-height:11.70px;color:#2a2a2a;font-weight:400;">publications</div><div class="t" style="left:37.15px;width:1000px;text-align:center;top:244.31px;font-size:9.36px;line-height:11.70px;color:#3232c8;font-weight:400;">Prohibited</div><div class="t" style="left:119.80px;width:1000px;text-align:center;top:125.01px;font-size:9.36px;line-height:11.70px;color:#2a2a2a;font-weight:400;">Q Use for</div><div class="t" style="left:119.80px;width:1000px;text-align:center;top:135.91px;font-size:9.36px;line-height:11.70px;color:#2a2a2a;font-weight:400;">tangible goods</div><div class="t" style="left:119.80px;width:1000px;text-align:center;top:244.31px;font-size:9.36px;line-height:11.70px;color:#3232c8;font-weight:400;">Prohibited</div><div class="t" style="left:202.65px;width:1000px;text-align:center;top:125.01px;font-size:9.36px;line-height:11.70px;color:#2a2a2a;font-weight:400;">R Integration</div><div class="t" style="left:202.65px;width:1000px;text-align:center;top:135.91px;font-size:9.36px;line-height:11.70px;color:#2a2a2a;font-weight:400;">into software,</div><div class="t" style="left:202.65px;width:1000px;text-align:center;top:146.81px;font-size:9.36px;line-height:11.70px;color:#2a2a2a;font-weight:400;">such as product</div><div class="t" style="left:202.65px;width:1000px;text-align:center;top:157.71px;font-size:9.36px;line-height:11.70px;color:#2a2a2a;font-weight:400;">development</div><div class="t" style="left:202.65px;width:1000px;text-align:center;top:244.31px;font-size:9.36px;line-height:11.70px;color:#3232c8;font-weight:400;">Prohibited</div><div class="t" style="left:420.50px;top:269.21px;font-size:9.36px;line-height:11.70px;color:#222;font-weight:400;">7. Derivative work</div><div class="t" style="left:-31.95px;width:1000px;text-align:center;top:283.41px;font-size:9.36px;line-height:11.70px;color:#2a2a2a;font-weight:400;">S Creation of costume</div><div class="t" style="left:-31.95px;width:1000px;text-align:center;top:294.31px;font-size:9.36px;line-height:11.70px;color:#2a2a2a;font-weight:400;">data by utilizing the</div><div class="t" style="left:-31.95px;width:1000px;text-align:center;top:305.21px;font-size:9.36px;line-height:11.70px;color:#2a2a2a;font-weight:400;">parameters of meshes</div><div class="t" style="left:-31.95px;width:1000px;text-align:center;top:316.11px;font-size:9.36px;line-height:11.70px;color:#2a2a2a;font-weight:400;">and weights</div><div class="t" style="left:-31.95px;width:1000px;text-align:center;top:435.31px;font-size:9.36px;line-height:11.70px;color:#3232c8;font-weight:400;text-decoration:underline;text-decoration-thickness:0.9px;text-underline-offset:0.6px;">Not applicable</div><div class="t" style="left:77.25px;width:1000px;text-align:center;top:283.41px;font-size:9.36px;line-height:11.70px;color:#2a2a2a;font-weight:400;">T Creation of new</div><div class="t" style="left:77.25px;width:1000px;text-align:center;top:294.31px;font-size:9.36px;line-height:11.70px;color:#2a2a2a;font-weight:400;">digital content on</div><div class="t" style="left:77.25px;width:1000px;text-align:center;top:305.21px;font-size:9.36px;line-height:11.70px;color:#2a2a2a;font-weight:400;">costumes and textures</div><div class="t" style="left:77.25px;width:1000px;text-align:center;top:316.11px;font-size:9.36px;line-height:11.70px;color:#2a2a2a;font-weight:400;">that comply with data</div><div class="t" style="left:77.25px;width:1000px;text-align:center;top:327.01px;font-size:9.36px;line-height:11.70px;color:#2a2a2a;font-weight:400;">format, without</div><div class="t" style="left:77.25px;width:1000px;text-align:center;top:337.91px;font-size:9.36px;line-height:11.70px;color:#2a2a2a;font-weight:400;">diverting the</div><div class="t" style="left:77.25px;width:1000px;text-align:center;top:348.81px;font-size:9.36px;line-height:11.70px;color:#2a2a2a;font-weight:400;">parameters of meshes</div><div class="t" style="left:77.25px;width:1000px;text-align:center;top:359.71px;font-size:9.36px;line-height:11.70px;color:#2a2a2a;font-weight:400;">and weights</div><div class="t" style="left:77.25px;width:1000px;text-align:center;top:435.31px;font-size:9.36px;line-height:11.70px;color:#3232c8;font-weight:400;text-decoration:underline;text-decoration-thickness:0.9px;text-underline-offset:0.6px;">Not applicable</div><div class="t" style="left:187.65px;width:1000px;text-align:center;top:283.41px;font-size:9.36px;line-height:11.70px;color:#2a2a2a;font-weight:400;">U Creation of</div><div class="t" style="left:187.65px;width:1000px;text-align:center;top:294.31px;font-size:9.36px;line-height:11.70px;color:#2a2a2a;font-weight:400;">derivative works based</div><div class="t" style="left:187.65px;width:1000px;text-align:center;top:305.21px;font-size:9.36px;line-height:11.70px;color:#2a2a2a;font-weight:400;">on the Digital Content</div><div class="t" style="left:187.65px;width:1000px;text-align:center;top:316.11px;font-size:9.36px;line-height:11.70px;color:#2a2a2a;font-weight:400;">("derivative works")</div><div class="t" style="left:187.65px;width:1000px;text-align:center;top:435.31px;font-size:9.36px;line-height:11.70px;color:#3232c8;font-weight:400;text-decoration:underline;text-decoration-thickness:0.9px;text-underline-offset:0.6px;">Not applicable</div><div class="t" style="left:420.50px;top:460.21px;font-size:9.36px;line-height:11.70px;color:#222;font-weight:400;">8. Others</div><div class="t" style="left:-3.70px;width:1000px;text-align:center;top:474.01px;font-size:9.36px;line-height:11.70px;color:#2a2a2a;font-weight:400;">V Credit notation</div><div class="t" style="left:-3.70px;width:1000px;text-align:center;top:560.11px;font-size:9.36px;line-height:11.70px;color:#3232c8;font-weight:400;text-decoration:underline;text-decoration-thickness:0.9px;text-underline-offset:0.6px;">Not necessary, but preferred</div><div class="t" style="left:161.85px;width:1000px;text-align:center;top:474.01px;font-size:9.36px;line-height:11.70px;color:#2a2a2a;font-weight:400;">W Assignment of Rights and</div><div class="t" style="left:161.85px;width:1000px;text-align:center;top:484.91px;font-size:9.36px;line-height:11.70px;color:#2a2a2a;font-weight:400;">Obligations, etc.</div><div class="t" style="left:161.85px;width:1000px;text-align:center;top:560.11px;font-size:9.36px;line-height:11.70px;color:#3232c8;font-weight:400;text-decoration:underline;text-decoration-thickness:0.9px;text-underline-offset:0.6px;">Prohibited</div><div class="t" style="left:420.50px;top:584.91px;font-size:9.36px;line-height:11.70px;color:#222;font-weight:400;">9. Special note</div><div class="t" style="left:78.20px;width:1000px;text-align:center;top:599.01px;font-size:9.36px;line-height:11.70px;color:#2a2a2a;font-weight:400;">X Special note</div><div class="t" style="left:-103.80px;width:1000px;text-align:center;top:20.58px;font-size:12.68px;line-height:15.85px;color:#111;font-weight:700;">(Reference) Simplified list of the scope of permissions under The License Agreement for</div><div class="t" style="left:-103.50px;width:1000px;text-align:center;top:37.86px;font-size:12.6px;line-height:15.75px;color:#111;font-weight:700;"><span id="m1" style="color:#2020d8;letter-spacing:1.45px;-webkit-text-stroke:0.45px #2020d8">mint-0547</span> <span id="m2" style="color:#2020d8;font-size:13.5px;letter-spacing:-0.4px;margin-left:2.5px;-webkit-text-stroke:0.35px #2020d8">アクセ・小物などの3Dモデル共通</span><span id="m3">.</span></div><div class="t" style="left:-103.60px;width:1000px;text-align:center;top:56.70px;font-size:12.56px;line-height:15.70px;color:#111;font-weight:700;">This English version is for reference only. The original version in Japanese shall prevail if any conflicts or</div><div class="t" style="left:-103.80px;width:1000px;text-align:center;top:74.66px;font-size:12.6px;line-height:15.75px;color:#111;font-weight:700;">inconsistencies exist.</div><div class="t" style="left:78.60px;width:1000px;text-align:center;top:671.28px;font-size:10px;line-height:12.50px;color:#3232c8;font-weight:400;letter-spacing:-0.55px;-webkit-text-stroke:0.12px currentColor;">・自作発言を禁止します。</div><div class="t" style="left:78.60px;width:1000px;text-align:center;top:682.43px;font-size:10px;line-height:12.50px;color:#3232c8;font-weight:400;letter-spacing:-0.55px;-webkit-text-stroke:0.12px currentColor;">・本データをAIによる学習に用いることを禁じます。</div><div class="t" style="left:78.60px;width:1000px;text-align:center;top:693.58px;font-size:10px;line-height:12.50px;color:#3232c8;font-weight:400;letter-spacing:-0.55px;-webkit-text-stroke:0.12px currentColor;">・犯罪および迷惑行為への使用を禁止します。</div><div class="t" style="left:78.60px;width:1000px;text-align:center;top:704.74px;font-size:10px;line-height:12.50px;color:#3232c8;font-weight:400;letter-spacing:-0.55px;-webkit-text-stroke:0.12px currentColor;">・誹謗中傷への利用を禁止します。</div><div class="t" style="left:78.60px;width:1000px;text-align:center;top:715.88px;font-size:10px;line-height:12.50px;color:#3232c8;font-weight:400;letter-spacing:-0.55px;-webkit-text-stroke:0.12px currentColor;">・ダウンロード商品の性質上、返品、返金、交換 などの対応はできません</div><div class="t" style="left:78.60px;width:1000px;text-align:center;top:727.03px;font-size:10px;line-height:12.50px;color:#3232c8;font-weight:400;letter-spacing:-0.55px;-webkit-text-stroke:0.12px currentColor;">・アバターペデスタル、アバタークローンでの利用を許可しません。</div><div class="t" style="left:78.60px;width:1000px;text-align:center;top:738.18px;font-size:10px;line-height:12.50px;color:#3232c8;font-weight:400;letter-spacing:-0.55px;-webkit-text-stroke:0.12px currentColor;">・NFTの発行は禁止です。</div><div class="t" style="left:78.60px;width:1000px;text-align:center;top:749.33px;font-size:10px;line-height:12.50px;color:#3232c8;font-weight:400;letter-spacing:-0.55px;-webkit-text-stroke:0.12px currentColor;">・本データを3Dプリンタ、彫刻、その他の方法で出力することを禁止しま</div><div class="t" style="left:78.60px;width:1000px;text-align:center;top:760.49px;font-size:10px;line-height:12.50px;color:#3232c8;font-weight:400;letter-spacing:-0.55px;-webkit-text-stroke:0.12px currentColor;">す。</div><div class="t" style="left:78.60px;width:1000px;text-align:center;top:771.63px;font-size:10px;line-height:12.50px;color:#3232c8;font-weight:400;text-decoration:underline;text-decoration-thickness:0.9px;text-underline-offset:0.6px;letter-spacing:-0.55px;-webkit-text-stroke:0.12px currentColor;">★利用規約の内容は変更する場合があり、最新のものが適用されます。</div>
</div>
<div style="position:absolute;left:260.5px;top:790.2px;width:274px;height:40px;border-radius:14px;background:#3e3e3e"></div><div style="position:absolute;left:413.5px;top:790.2px;width:1.2px;height:10px;background:#6e6e6e"></div>
</body></html>
